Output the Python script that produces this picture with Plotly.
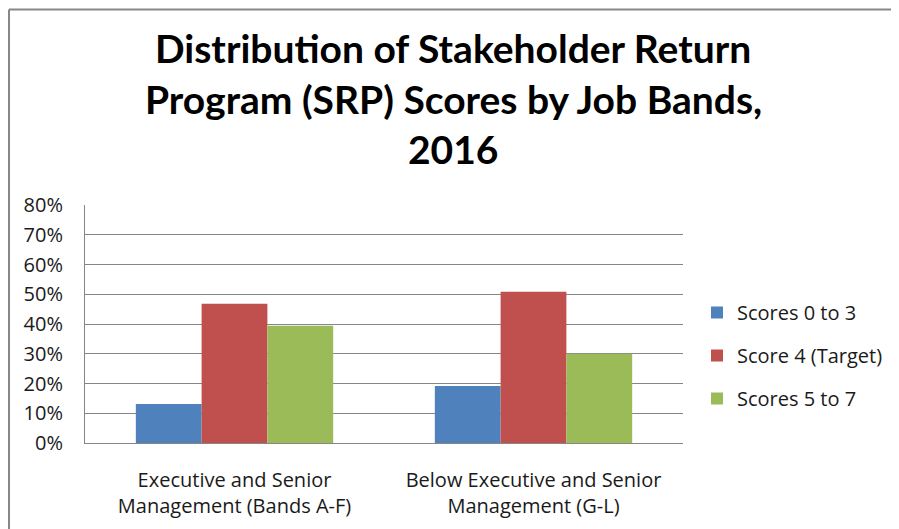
import plotly.graph_objects as go

categories = ["Executive and Senior<br>Management (Bands A-F)",
              "Below Executive and Senior<br>Management (G-L)"]
series_names = ["Scores 0 to 3", "Score 4 (Target)", "Scores 5 to 7"]
scores_0_3 = [0.131, 0.192]
score_4 = [0.468, 0.508]
scores_5_7 = [0.394, 0.30]
colors = ["#4F81BD", "#C0504D", "#9BBB59"]
y_ticks = [0, 0.1, 0.2, 0.3, 0.4, 0.5, 0.6, 0.7, 0.8]
title_lines = ["Distribution of Stakeholder Return",
               "Program (SRP) Scores by Job Bands,",
               "2016"]

# page has an 8px body margin; work in screen pixels and shift
OFF = 8
W, H = 899 - OFF, 529 - OFF
PL, PR, PT, PB = 85, 683, 205, 443  # plot area in screen pixels
ML, MT = PL - OFF, PT - OFF
MR, MB = W - (PR - OFF), H - (PB - OFF)
PW, PH = PR - PL, PB - PT


def px_x(p):
    return (p - PL) / PW


def px_y(p):
    return (PB - p) / PH


fig = go.Figure()
for name, vals, col, grp in zip(series_names, [scores_0_3, score_4, scores_5_7], colors, ["a", "b", "c"]):
    fig.add_trace(go.Bar(x=categories, y=vals, name=name, marker_color=col,
                         marker_line_width=0, legendgroup=grp))

body_font = dict(family="Open Sans, sans-serif", size=20, color="#1a1a1a")

fig.update_layout(
    width=W, height=H,
    margin=dict(l=ML, r=MR, t=MT, b=MB, autoexpand=False),
    paper_bgcolor="white", plot_bgcolor="white",
    barmode="group", bargap=0.34, bargroupgap=0,
    font=body_font,
    showlegend=True,
    legend=dict(x=px_x(697), y=px_y(293), xanchor="left", yanchor="top",
                font=body_font, tracegroupgap=14, traceorder="grouped",
                bgcolor="rgba(0,0,0,0)"),
    xaxis=dict(showgrid=False, showline=True, linecolor="#868686", linewidth=1,
               ticks="", tickfont=body_font, ticklabelstandoff=19, fixedrange=True),
    yaxis=dict(range=[0, 0.8], tickvals=y_ticks, tickformat=".0%",
               showgrid=True, gridcolor="#868686", gridwidth=1,
               showline=True, linecolor="#868686", linewidth=1,
               zeroline=False, ticks="", tickfont=body_font,
               ticklabelstandoff=17, fixedrange=True),
)

title_centers = [48, 99, 149]
for line, cy in zip(title_lines, title_centers):
    fig.add_annotation(text="<b>" + line + "</b>", x=px_x(453), y=px_y(cy),
                       xref="paper", yref="paper", xanchor="center", yanchor="middle",
                       showarrow=False,
                       font=dict(family="Lato, sans-serif", size=39, color="black"))

# outer chart frame (top and left edges visible)
fig.add_shape(type="line", xref="paper", yref="paper",
              x0=px_x(9), y0=px_y(9.5), x1=px_x(910), y1=px_y(9.5),
              line=dict(color="#878787", width=2))
fig.add_shape(type="line", xref="paper", yref="paper",
              x0=px_x(9), y0=px_y(9.5), x1=px_x(9), y1=px_y(540),
              line=dict(color="#878787", width=2))

fig.write_html("out.html", config={"displayModeBar": False})
